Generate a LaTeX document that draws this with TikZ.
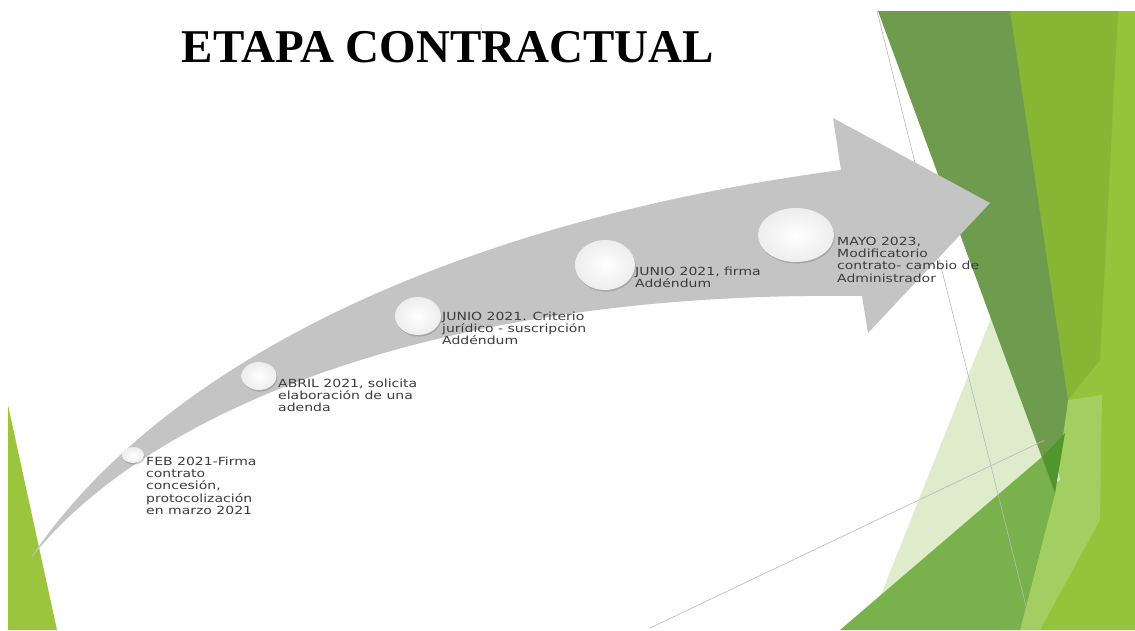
\documentclass[tikz,border=0pt]{standalone}
\usepackage{fontspec}
\usetikzlibrary{shapes.geometric,shadows}
\newfontfamily\lblfont[FakeStretch=1.25]{DejaVu Sans}
\newfontfamily\ttlfont{Liberation Serif}
\definecolor{arrowgray}{RGB}{196,196,196}
\definecolor{darkgreen}{RGB}{110,155,78}
\definecolor{midgreen}{RGB}{135,181,52}
\definecolor{limegreen}{RGB}{148,196,58}
\definecolor{lightfacet}{RGB}{162,206,98}
\definecolor{palegreen}{RGB}{223,236,203}
\definecolor{medgreen}{RGB}{121,177,76}
\definecolor{overlapgreen}{RGB}{80,150,44}
\definecolor{leftlime}{RGB}{155,197,60}
\definecolor{labelgray}{RGB}{60,60,60}
\definecolor{linegray}{RGB}{185,185,185}
\tikzset{
  dot/.style={ellipse, inner sep=0pt, shade, shading=radial, inner color=white, outer color=black!7,
    drop shadow={shadow xshift=0.8pt, shadow yshift=-1.6pt, opacity=0.3, fill=black!60}},
  lbl/.style={anchor=north west, inner sep=0pt, align=left, text=labelgray,
    font=\lblfont\fontsize{11.2pt}{12.3pt}\selectfont},
  thinline/.style={draw=linegray, line width=0.6pt}
}
\begin{document}
\begin{tikzpicture}[x=1pt,y=-1pt]
\useasboundingbox (0,0) rectangle (1135,630);
\fill[white] (0,0) rectangle (1135,630);
% right facets
\fill[limegreen] (1010,11) -- (1135,11) -- (1135,630) -- (1000,630) -- cycle;
\fill[midgreen] (1010,11) -- (1118,11) -- (1100,360) -- (1068,400) -- cycle;
\fill[lightfacet] (1068,400) -- (1102,395) -- (1100,520) -- (1040,630) -- (1020,630) -- (1055,493) -- cycle;
\fill[palegreen] (1015,258) -- (1060,480) -- (875,610) -- cycle;
\fill[darkgreen] (878,11) -- (1010,11) -- (1068,400) -- (1055,493) -- cycle;
\fill[medgreen] (840,630) -- (1042,457) -- (1055,493) -- (1020,630) -- cycle;
\fill[overlapgreen] (1042,457) -- (1065,433) -- (1055,493) -- cycle;
\coordinate (la1) at (877,11);
\coordinate (la2) at (1032,630);
\coordinate (lb1) at (650,628);
\coordinate (lb2) at (1045,440);
\draw[thinline] (la1) -- (la2);
\draw[thinline] (lb1) -- (lb2);
% left facet
\fill[leftlime] (8,405) -- (57,630) -- (8,630) -- cycle;
% arrow
\fill[arrowgray] (32,556) .. controls (180,340) and (500,215) .. (841,170)
  -- (833,118) -- (990,203) -- (868,333) -- (862,296)
  .. controls (420,290) and (140,420) .. (32,557) -- cycle;
% title
\node[anchor=base, font=\ttlfont\bfseries\fontsize{47pt}{50pt}\selectfont] (title) at (448,62) {ETAPA CONTRACTUAL};
% circles
\node[dot, minimum width=22pt, minimum height=16pt] (c1) at (133,455) {};
\node[dot, minimum width=35pt, minimum height=28pt] (c2) at (259,376) {};
\node[dot, minimum width=46pt, minimum height=38pt] (c3) at (418,316) {};
\node[dot, minimum width=60pt, minimum height=50pt] (c4) at (605,265) {};
\node[dot, minimum width=76pt, minimum height=54pt] (c5) at (796,235) {};
% labels
\node[lbl] (t1) at (146,456.6) {FEB 2021-Firma\\contrato\\concesión,\\protocolización\\en marzo 2021};
\node[lbl] (t2) at (278,378.6) {ABRIL 2021, solicita\\elaboración de una\\adenda};
\node[lbl] (t3) at (442,311.6) {JUNIO 2021. Criterio\\jurídico - suscripción\\Addéndum};
\node[lbl] (t4) at (635,266.6) {JUNIO 2021, firma\\Addéndum};
\node[lbl] (t5) at (837,236.6) {MAYO 2023,\\Modificatorio\\contrato- cambio de\\Administrador};
\end{tikzpicture}
\end{document}
